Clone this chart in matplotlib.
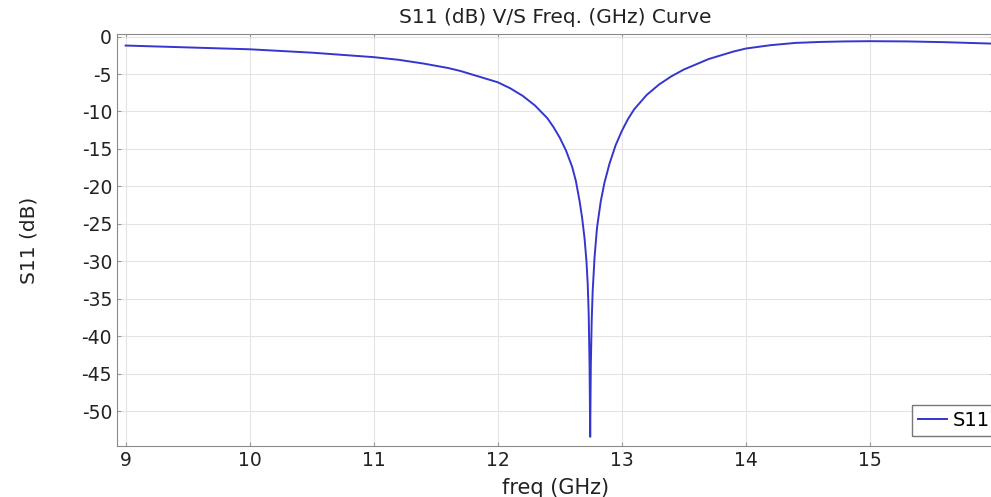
import matplotlib
matplotlib.use("Agg")
import matplotlib.pyplot as plt

# S11 return loss sweep (GHz, dB)
freq = [9.0, 9.5, 10.0, 10.5, 11.0, 11.2, 11.4, 11.6, 11.7, 11.8, 11.9, 12.0,
        12.1, 12.2, 12.3, 12.4, 12.45, 12.5, 12.55, 12.6, 12.63, 12.66, 12.68,
        12.70, 12.715, 12.725, 12.733, 12.74, 12.745, 12.75, 12.757, 12.765,
        12.78, 12.80, 12.83, 12.86, 12.9, 12.95, 13.0, 13.05, 13.1, 13.2, 13.3,
        13.4, 13.5, 13.6, 13.7, 13.8, 13.9, 14.0, 14.2, 14.4, 14.6, 14.8, 15.0,
        15.3, 15.6, 16.0]
s11 = [-1.2, -1.45, -1.7, -2.15, -2.75, -3.1, -3.6, -4.2, -4.6, -5.1, -5.6, -6.1,
       -6.9, -7.9, -9.2, -10.9, -12.1, -13.5, -15.2, -17.4, -19.3, -22.0, -24.2,
       -27.0, -30.0, -33.0, -37.0, -44.0, -53.4, -44.0, -38.0, -34.0,
       -29.5, -25.5, -22.0, -19.5, -17.0, -14.5, -12.6, -11.0, -9.7, -7.8, -6.4,
       -5.3, -4.4, -3.7, -3.0, -2.5, -2.0, -1.6, -1.15, -0.85, -0.72, -0.65, -0.62,
       -0.65, -0.75, -0.95]

xticks = [9, 10, 11, 12, 13, 14, 15]
yticks = list(range(0, -55, -5))

fig = plt.figure(figsize=(9.91, 4.97), dpi=100)
ax = fig.add_axes([0.118, 0.103, 0.885, 0.828])

ax.plot(freq, s11, color="#3535d0", lw=1.4, label="S11")

ax.set_xlim(8.93, 16.0)
ax.set_ylim(-54.6, 0.3)
ax.set_xticks(xticks)
ax.set_yticks(yticks)
ax.set_yticklabels([str(v) for v in yticks])
ax.grid(True, color="#e4e4e4", lw=0.8)
ax.tick_params(direction="in", length=3, color="#999999", labelsize=13.5,
               labelcolor="#222222", top=True, right=True)
for s in ax.spines.values():
    s.set_color("#8a8a8a")

ax.set_title("S11 (dB) V/S Freq. (GHz) Curve", fontsize=14.5, color="#222222", pad=8)
ax.set_xlabel("freq (GHz)", fontsize=15, color="#222222", labelpad=6)
ax.set_ylabel("S11 (dB)", fontsize=14.5, color="#222222", labelpad=31)

leg = ax.legend(loc="lower right", bbox_to_anchor=(1.002, 0.025), fontsize=14,
                frameon=True, fancybox=False, handlelength=1.5, handletextpad=0.3,
                borderpad=0.3, borderaxespad=0.0)
leg.get_frame().set_edgecolor("#555555")
leg.get_frame().set_linewidth(1.0)

fig.savefig("out.png", dpi=100)
